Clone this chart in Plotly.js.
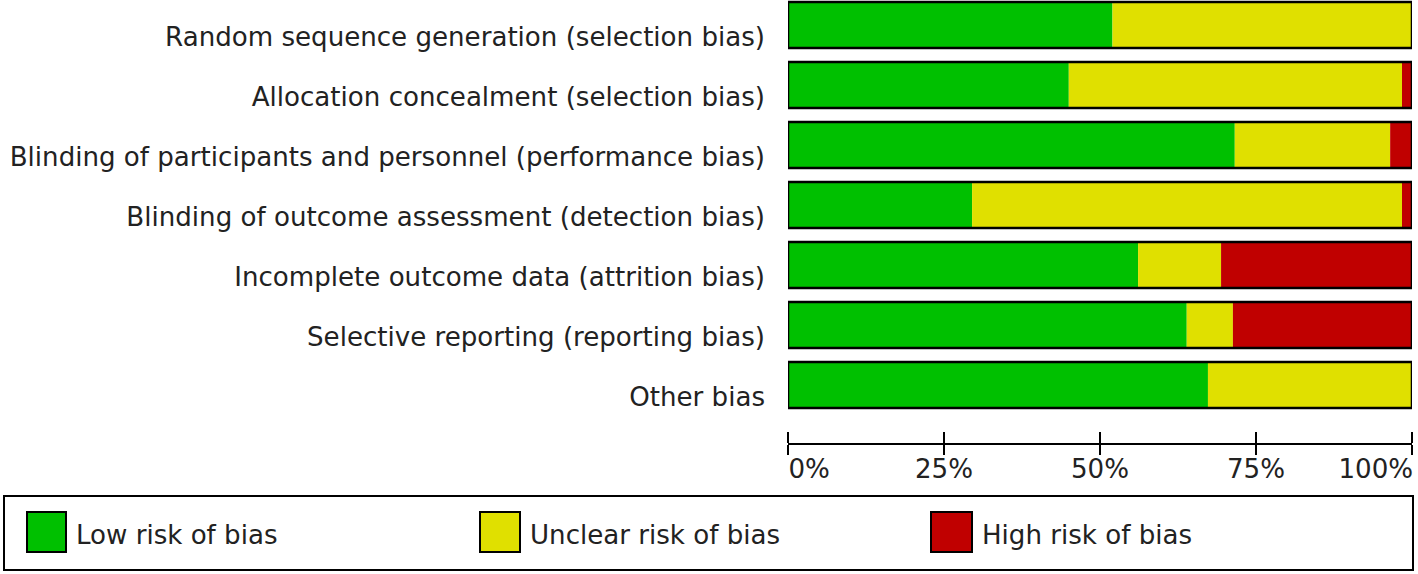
<!DOCTYPE html>
<html>
<head>
<meta charset="utf-8">
<script src="https://cdn.plot.ly/plotly-3.0.1.min.js"></script>
<style>html,body{margin:0;padding:0;background:#fff;}#chart{width:1418px;height:574px;}</style>
</head>
<body>
<div id="chart"></div>
<script>
// Data (percent of studies)
const domains = [
  "Random sequence generation (selection bias)",
  "Allocation concealment (selection bias)",
  "Blinding of participants and personnel (performance bias)",
  "Blinding of outcome assessment (detection bias)",
  "Incomplete outcome data (attrition bias)",
  "Selective reporting (reporting bias)",
  "Other bias"
];
const lowRisk     = [52.0, 45.0, 71.6, 29.5, 56.1, 63.9, 67.3];
const unclearRisk = [48.0, 53.4, 24.9, 68.9, 13.3,  7.4, 32.7];
const highRisk    = [ 0.0,  1.6,  3.5,  1.6, 30.6, 28.7,  0.0];
const tickValues  = [0, 25, 50, 75, 100];
const tickLabels  = ["0%", "25%", "50%", "75%", "100%"];
const legendNames = ["Low risk of bias", "Unclear risk of bias", "High risk of bias"];
const colors = ["#00C000", "#E0E000", "#C00000"];

const FONT = "DejaVu Sans, Verdana, sans-serif";
const FS = 26.1;
const TXT = "#222";

const idx = domains.map((d, i) => i);
const unclearBase = lowRisk.slice();
const highBase = lowRisk.map((v, i) => v + unclearRisk[i]);
const totals = highBase.map((v, i) => v + highRisk[i]);

// label positions for the x tick labels (end labels nudged inward as in reference)
const labelPos = [3.4, 25, 50, 75, 94.2];

const W = 0.77;
const traces = [
  {type: "bar", orientation: "h", y: idx, x: lowRisk, base: 0, width: W,
   marker: {color: colors[0], line: {width: 0}}, name: legendNames[0], hoverinfo: "x"},
  {type: "bar", orientation: "h", y: idx, x: unclearRisk, base: unclearBase, width: W,
   marker: {color: colors[1], line: {width: 0}}, name: legendNames[1], hoverinfo: "x"},
  {type: "bar", orientation: "h", y: idx, x: highRisk, base: highBase, width: W,
   marker: {color: colors[2], line: {width: 0}}, name: legendNames[2], hoverinfo: "x"},
  {type: "bar", orientation: "h", y: idx, x: totals, base: 0, width: W,
   marker: {color: "rgba(0,0,0,0)", line: {color: "#000", width: 2.5}}, showlegend: false, hoverinfo: "skip"},
  // invisible helpers so that the overlay axes are drawn
  {type: "scatter", mode: "markers", x: tickValues, y: tickValues.map(() => null), xaxis: "x2",
   marker: {opacity: 0}, showlegend: false, hoverinfo: "skip"},
  {type: "scatter", mode: "markers", x: labelPos, y: labelPos.map(() => null), xaxis: "x3",
   marker: {opacity: 0}, showlegend: false, hoverinfo: "skip"}
];

// pixel helpers for plot area: left 788, right 1412, top 0, bottom 443
const L = 788, R = 1412, T = 0, B = 443;
const px = x => (x - L) / (R - L);
const py = y => (B - y) / (B - T);

const shapes = [
  {type: "rect", xref: "paper", yref: "paper", x0: px(4), x1: px(1413), y0: py(496), y1: py(570),
   line: {color: "#000", width: 2}, fillcolor: "rgba(0,0,0,0)"}
];
const annotations = [];
const sw = [[27, 66], [480, 520], [931, 972]];
sw.forEach((s, i) => {
  shapes.push({type: "rect", xref: "paper", yref: "paper", x0: px(s[0]), x1: px(s[1]), y0: py(512), y1: py(552),
    line: {color: "#000", width: 2}, fillcolor: colors[i]});
  annotations.push({xref: "paper", yref: "paper", x: px(s[1] + 8), y: py(535), xanchor: "left", yanchor: "middle",
    text: legendNames[i], showarrow: false, font: {family: FONT, size: FS, color: TXT}});
});

const layout = {
  width: 1418, height: 574,
  margin: {l: L, r: 1418 - R, t: T, b: 574 - B, pad: 0},
  paper_bgcolor: "#fff", plot_bgcolor: "#fff",
  barmode: "overlay",
  showlegend: false,
  xaxis: {range: [0, 100], showgrid: false, zeroline: false, showline: true, linecolor: "#000", linewidth: 2,
          ticks: "outside", ticklen: 10, tickwidth: 2, tickcolor: "#000", tickvals: tickValues,
          showticklabels: false, fixedrange: true},
  xaxis2: {range: [0, 100], overlaying: "x", anchor: "free", position: 0, side: "top", showgrid: false,
           zeroline: false, showline: false, ticks: "outside", ticklen: 11,
           tickwidth: 2, tickcolor: "#000", tickvals: tickValues, showticklabels: false, fixedrange: true},
  xaxis3: {range: [0, 100], overlaying: "x", anchor: "y", side: "bottom", showgrid: false, zeroline: false,
           showline: false, ticks: "", tickvals: labelPos, ticktext: tickLabels, ticklabelstandoff: 8,
           tickfont: {family: FONT, size: FS, color: TXT}, fixedrange: true},
  yaxis: {range: [6.967, -0.417], tickvals: idx, ticktext: domains, showgrid: false, zeroline: false,
          showline: false, ticks: "", ticklabelstandoff: 22, ticklabelshift: -12,
          tickfont: {family: FONT, size: FS, color: TXT}, fixedrange: true},
  shapes: shapes,
  annotations: annotations
};

Plotly.newPlot("chart", traces, layout, {displayModeBar: false, staticPlot: true});
</script>
</body>
</html>
